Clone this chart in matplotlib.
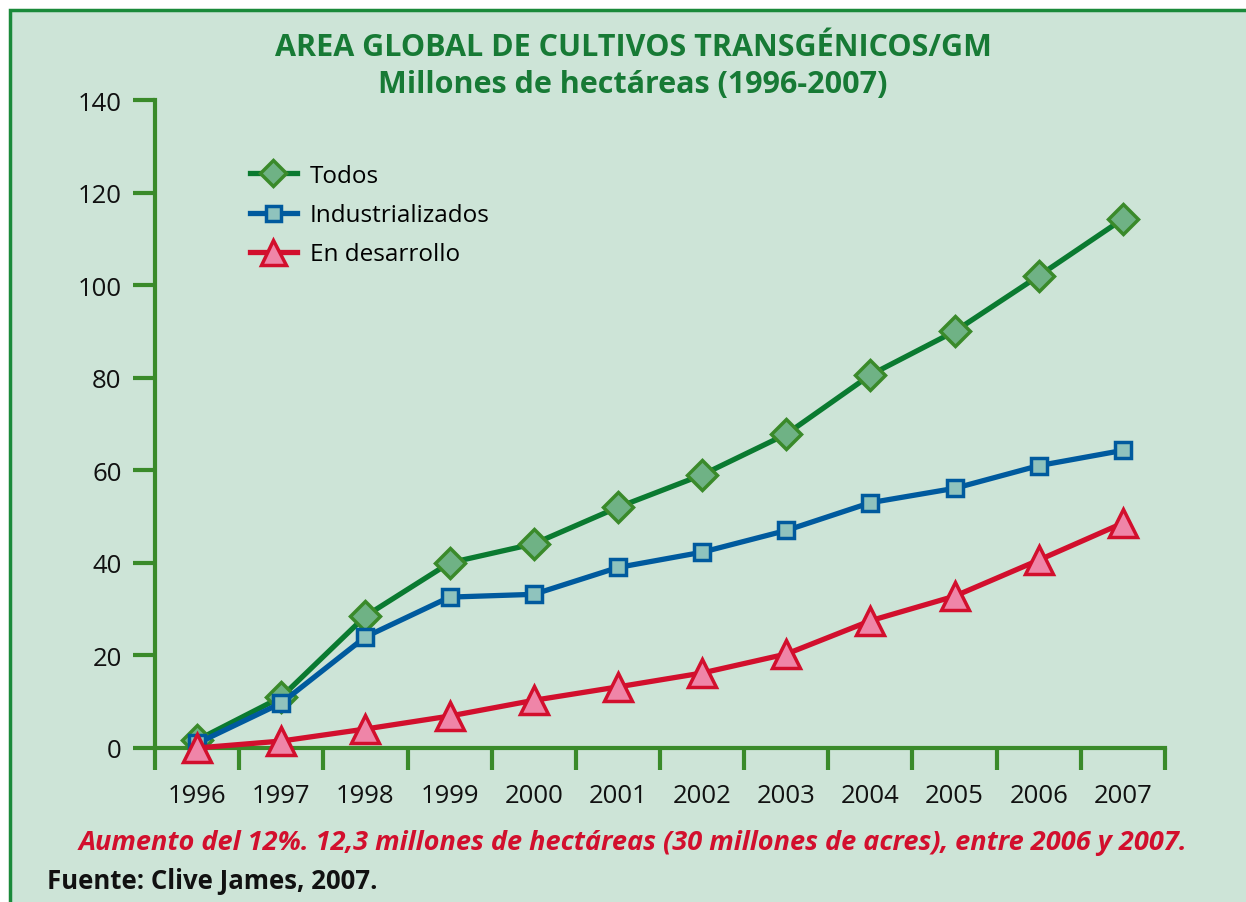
import numpy as np
import matplotlib.pyplot as plt
from matplotlib.patches import Rectangle

years = ["1996", "1997", "1998", "1999", "2000", "2001",
         "2002", "2003", "2004", "2005", "2006", "2007"]
todos = [1.7, 11.0, 28.5, 40.0, 44.1, 52.0, 59.0, 67.8, 80.6, 90.0, 102.0, 114.3]
industrializados = [1.0, 9.7, 24.0, 32.6, 33.2, 39.0, 42.3, 47.0, 53.0, 56.1, 61.0, 64.3]
en_desarrollo = [0.0, 1.5, 4.1, 6.9, 10.3, 13.2, 16.2, 20.3, 27.5, 32.8, 40.6, 48.6]

bg = "#cde4d7"
axis_green = "#3a8a2a"

plt.rcParams.update({
    "font.family": ["Open Sans", "DejaVu Sans"],
    "font.size": 16,
})

fig = plt.figure(figsize=(12.46, 9.03), dpi=100)
fig.patch.set_facecolor("white")
# panel background with green frame
fig.patches.append(Rectangle((10 / 1246, -0.05), 1.1, (903 - 11) / 903 + 0.05,
                             transform=fig.transFigure, facecolor=bg,
                             edgecolor="#1a8a3a", linewidth=2.5, zorder=0))

ax = fig.add_axes([155 / 1246, (903 - 749) / 903, 1010 / 1246, 648 / 903])
ax.set_zorder(2)
ax.set_facecolor("none")

x = np.arange(len(years)) + 0.5

ax.plot(x, todos, color="#0a7a30", lw=3.8, marker="D", ms=15,
        mfc="#6fb285", mec=axis_green, mew=2.5, label="Todos", zorder=3,
        clip_on=False)
ax.plot(x, industrializados, color="#005a9e", lw=3.8, marker="s", ms=12,
        mfc="#8fc3bd", mec="#005a9e", mew=2.5, label="Industrializados", zorder=4,
        clip_on=False)
ax.plot(x, en_desarrollo, color="#d20f2d", lw=3.8, marker="^", ms=20,
        mfc="#ef85a8", mec="#d20f2d", mew=2.5, label="En desarrollo", zorder=5,
        clip_on=False)

ax.set_xlim(0, 12)
ax.set_ylim(0, 140)
for s in ["top", "right"]:
    ax.spines[s].set_visible(False)
for s in ["left", "bottom"]:
    ax.spines[s].set_color(axis_green)
    ax.spines[s].set_linewidth(3)

ax.set_yticks(np.arange(0, 141, 20))
ax.tick_params(axis="y", direction="out", length=16, width=3, color=axis_green,
               labelsize=18.5, pad=8)
ax.set_xticks(np.arange(0, 13))
ax.set_xticklabels([])
ax.tick_params(axis="x", which="major", direction="out", length=16, width=3,
               color=axis_green)
ax.set_xticks(x, minor=True)
ax.set_xticklabels(years, minor=True)
ax.tick_params(axis="x", which="minor", length=0, labelsize=18.5, pad=25)
for lbl in ax.get_xticklabels(minor=True) + ax.get_yticklabels():
    lbl.set_color("#111111")

leg = ax.legend(loc="upper left", bbox_to_anchor=(0.072, 0.935), frameon=False,
                fontsize=17.5, handlelength=1.95, handletextpad=0.53,
                labelspacing=0.62, markerscale=0.9)

fig.text(633 / 1246, 1 - 48 / 903, "AREA GLOBAL DE CULTIVOS TRANSGÉNICOS/GM",
         ha="center", va="center", color="#177a35", fontsize=22, fontweight="bold")
fig.text(633 / 1246, 1 - 85 / 903, "Millones de hectáreas (1996-2007)",
         ha="center", va="center", color="#177a35", fontsize=22, fontweight="bold")

fig.text(633 / 1246, 1 - 843 / 903,
         "Aumento del 12%. 12,3 millones de hectáreas (30 millones de acres), entre 2006 y 2007.",
         ha="center", va="center", color="#d20f2d", fontsize=19.5,
         fontstyle="italic", fontweight="bold")
fig.text(47 / 1246, 1 - 882 / 903, "Fuente: Clive James, 2007.",
         ha="left", va="center", color="#111111", fontsize=18.5, fontweight="bold")

fig.savefig("out.png", dpi=100)
